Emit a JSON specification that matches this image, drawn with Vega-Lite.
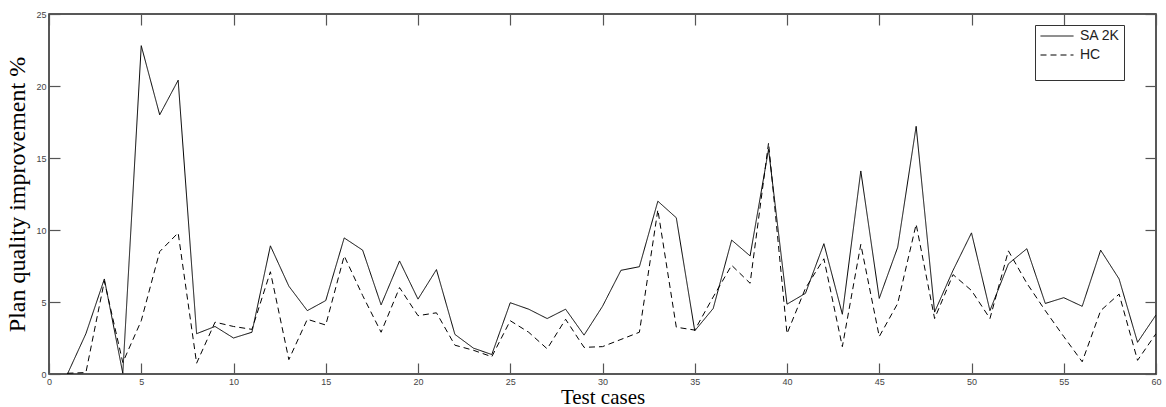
{
  "$schema": "https://vega.github.io/schema/vega-lite/v6.json",
  "width": 1107,
  "height": 360,
  "autosize": {"type": "none"},
  "padding": {"left": 49, "top": 14, "right": 10, "bottom": 33},
  "background": "white",
  "config": {
    "view": {"stroke": "#222", "strokeWidth": 1.5},
    "axis": {
      "grid": false,
      "domain": false,
      "labelFont": "Liberation Sans",
      "labelFontSize": 9,
      "labelColor": "#444",
      "titleFont": "Liberation Serif",
      "titleFontWeight": "normal",
      "titleColor": "#000"
    }
  },
  "datasets": {
    "d": [
      {"case": 1, "method": "SA 2K", "value": 0.0},
      {"case": 2, "method": "SA 2K", "value": 2.8},
      {"case": 3, "method": "SA 2K", "value": 6.6},
      {"case": 4, "method": "SA 2K", "value": 0.05},
      {"case": 5, "method": "SA 2K", "value": 22.8},
      {"case": 6, "method": "SA 2K", "value": 18.0},
      {"case": 7, "method": "SA 2K", "value": 20.4},
      {"case": 8, "method": "SA 2K", "value": 2.8},
      {"case": 9, "method": "SA 2K", "value": 3.3},
      {"case": 10, "method": "SA 2K", "value": 2.5},
      {"case": 11, "method": "SA 2K", "value": 2.9},
      {"case": 12, "method": "SA 2K", "value": 8.9},
      {"case": 13, "method": "SA 2K", "value": 6.1},
      {"case": 14, "method": "SA 2K", "value": 4.4},
      {"case": 15, "method": "SA 2K", "value": 5.1},
      {"case": 16, "method": "SA 2K", "value": 9.45},
      {"case": 17, "method": "SA 2K", "value": 8.6},
      {"case": 18, "method": "SA 2K", "value": 4.8},
      {"case": 19, "method": "SA 2K", "value": 7.85},
      {"case": 20, "method": "SA 2K", "value": 5.2},
      {"case": 21, "method": "SA 2K", "value": 7.25},
      {"case": 22, "method": "SA 2K", "value": 2.75},
      {"case": 23, "method": "SA 2K", "value": 1.8},
      {"case": 24, "method": "SA 2K", "value": 1.35},
      {"case": 25, "method": "SA 2K", "value": 4.95},
      {"case": 26, "method": "SA 2K", "value": 4.5},
      {"case": 27, "method": "SA 2K", "value": 3.85},
      {"case": 28, "method": "SA 2K", "value": 4.5},
      {"case": 29, "method": "SA 2K", "value": 2.7},
      {"case": 30, "method": "SA 2K", "value": 4.7},
      {"case": 31, "method": "SA 2K", "value": 7.2},
      {"case": 32, "method": "SA 2K", "value": 7.45},
      {"case": 33, "method": "SA 2K", "value": 12.0},
      {"case": 34, "method": "SA 2K", "value": 10.85},
      {"case": 35, "method": "SA 2K", "value": 3.0},
      {"case": 36, "method": "SA 2K", "value": 4.55},
      {"case": 37, "method": "SA 2K", "value": 9.3},
      {"case": 38, "method": "SA 2K", "value": 8.2},
      {"case": 39, "method": "SA 2K", "value": 15.6},
      {"case": 40, "method": "SA 2K", "value": 4.85},
      {"case": 41, "method": "SA 2K", "value": 5.6},
      {"case": 42, "method": "SA 2K", "value": 9.05},
      {"case": 43, "method": "SA 2K", "value": 4.15},
      {"case": 44, "method": "SA 2K", "value": 14.1},
      {"case": 45, "method": "SA 2K", "value": 5.25},
      {"case": 46, "method": "SA 2K", "value": 8.8},
      {"case": 47, "method": "SA 2K", "value": 17.2},
      {"case": 48, "method": "SA 2K", "value": 4.3},
      {"case": 49, "method": "SA 2K", "value": 7.2},
      {"case": 50, "method": "SA 2K", "value": 9.8},
      {"case": 51, "method": "SA 2K", "value": 4.4},
      {"case": 52, "method": "SA 2K", "value": 7.65},
      {"case": 53, "method": "SA 2K", "value": 8.7},
      {"case": 54, "method": "SA 2K", "value": 4.9},
      {"case": 55, "method": "SA 2K", "value": 5.3},
      {"case": 56, "method": "SA 2K", "value": 4.7},
      {"case": 57, "method": "SA 2K", "value": 8.6},
      {"case": 58, "method": "SA 2K", "value": 6.6},
      {"case": 59, "method": "SA 2K", "value": 2.2},
      {"case": 60, "method": "SA 2K", "value": 4.1},
      {"case": 1, "method": "HC", "value": 0.05},
      {"case": 2, "method": "HC", "value": 0.1},
      {"case": 3, "method": "HC", "value": 6.45},
      {"case": 4, "method": "HC", "value": 0.8},
      {"case": 5, "method": "HC", "value": 3.7},
      {"case": 6, "method": "HC", "value": 8.5},
      {"case": 7, "method": "HC", "value": 9.8},
      {"case": 8, "method": "HC", "value": 0.75},
      {"case": 9, "method": "HC", "value": 3.6},
      {"case": 10, "method": "HC", "value": 3.3},
      {"case": 11, "method": "HC", "value": 3.1},
      {"case": 12, "method": "HC", "value": 7.1},
      {"case": 13, "method": "HC", "value": 1.0},
      {"case": 14, "method": "HC", "value": 3.8},
      {"case": 15, "method": "HC", "value": 3.4},
      {"case": 16, "method": "HC", "value": 8.2},
      {"case": 17, "method": "HC", "value": 5.45},
      {"case": 18, "method": "HC", "value": 2.9},
      {"case": 19, "method": "HC", "value": 6.0},
      {"case": 20, "method": "HC", "value": 4.05},
      {"case": 21, "method": "HC", "value": 4.25},
      {"case": 22, "method": "HC", "value": 2.0},
      {"case": 23, "method": "HC", "value": 1.65},
      {"case": 24, "method": "HC", "value": 1.2},
      {"case": 25, "method": "HC", "value": 3.7},
      {"case": 26, "method": "HC", "value": 2.9},
      {"case": 27, "method": "HC", "value": 1.75},
      {"case": 28, "method": "HC", "value": 3.8},
      {"case": 29, "method": "HC", "value": 1.85},
      {"case": 30, "method": "HC", "value": 1.9},
      {"case": 31, "method": "HC", "value": 2.4},
      {"case": 32, "method": "HC", "value": 2.9},
      {"case": 33, "method": "HC", "value": 11.4},
      {"case": 34, "method": "HC", "value": 3.25},
      {"case": 35, "method": "HC", "value": 3.05},
      {"case": 36, "method": "HC", "value": 5.35},
      {"case": 37, "method": "HC", "value": 7.55},
      {"case": 38, "method": "HC", "value": 6.3},
      {"case": 39, "method": "HC", "value": 16.05},
      {"case": 40, "method": "HC", "value": 2.8},
      {"case": 41, "method": "HC", "value": 5.95},
      {"case": 42, "method": "HC", "value": 8.0},
      {"case": 43, "method": "HC", "value": 1.9},
      {"case": 44, "method": "HC", "value": 9.0},
      {"case": 45, "method": "HC", "value": 2.6},
      {"case": 46, "method": "HC", "value": 4.9},
      {"case": 47, "method": "HC", "value": 10.4},
      {"case": 48, "method": "HC", "value": 3.85},
      {"case": 49, "method": "HC", "value": 6.9},
      {"case": 50, "method": "HC", "value": 5.8},
      {"case": 51, "method": "HC", "value": 3.85},
      {"case": 52, "method": "HC", "value": 8.55},
      {"case": 53, "method": "HC", "value": 6.3},
      {"case": 54, "method": "HC", "value": 4.4},
      {"case": 55, "method": "HC", "value": 2.6},
      {"case": 56, "method": "HC", "value": 0.85},
      {"case": 57, "method": "HC", "value": 4.4},
      {"case": 58, "method": "HC", "value": 5.55},
      {"case": 59, "method": "HC", "value": 0.95},
      {"case": 60, "method": "HC", "value": 2.8}
    ]
  },
  "data": {"name": "d"},
  "resolve": {"axis": {"x": "independent", "y": "independent"}},
  "layer": [
    {
      "mark": {"type": "line", "color": "#000", "strokeWidth": 1, "clip": true},
      "encoding": {
        "x": {
          "field": "case", "type": "quantitative",
          "scale": {"domain": [0, 60], "nice": false},
          "axis": {"values": [0,5,10,15,20,25,30,35,40,45,50,55,60], "title": "Test cases", "titleFontSize": 21, "tickSize": -11, "tickColor": "#555", "tickWidth": 1.2, "labelPadding": 14, "titlePadding": 0, "labelFlush": false, "labelOverlap": false}
        },
        "y": {
          "field": "value", "type": "quantitative",
          "scale": {"domain": [0, 25], "nice": false},
          "axis": {"values": [0,5,10,15,20,25], "title": "Plan quality improvement %", "titleFontSize": 24, "tickSize": -11, "tickColor": "#555", "tickWidth": 1.2, "labelPadding": 14, "titlePadding": 6}
        },
        "strokeDash": {
          "field": "method", "type": "nominal",
          "scale": {"domain": ["SA 2K", "HC"], "range": [[1, 0], [6, 4]]},
          "legend": {
            "orient": "none", "legendX": 986, "legendY": 11,
            "title": "\u00a0", "titleOrient": "bottom", "titleFontSize": 9, "titlePadding": 5,
            "strokeColor": "#333", "fillColor": "white", "padding": 4,
            "symbolType": "M-3,0H3", "symbolSize": 121, "symbolOffset": 11, "symbolStrokeWidth": 1, "symbolStrokeColor": "#000", "symbolFillColor": "transparent",
            "labelFont": "Liberation Sans", "labelFontSize": 14, "labelColor": "#222", "labelOffset": 16,
            "rowPadding": 5,
            "labelExpr": "datum.label == 'HC' ? '\u00a0HC\u00a0\u00a0\u00a0\u00a0\u00a0\u00a0\u00a0\u00a0\u00a0\u00a0\u00a0' : datum.label + '\u00a0\u00a0\u00a0\u00a0\u00a0'"
          }
        }
      }
    },
    {
      "mark": {"type": "line", "opacity": 0},
      "encoding": {
        "x": {"field": "case", "type": "quantitative", "axis": {"orient": "top", "values": [0,5,10,15,20,25,30,35,40,45,50,55,60], "tickSize": -11, "tickColor": "#555", "tickWidth": 1.2, "labels": false, "title": null}},
        "y": {"field": "value", "type": "quantitative", "axis": {"orient": "right", "values": [0,5,10,15,20,25], "tickSize": -11, "tickColor": "#555", "tickWidth": 1.2, "labels": false, "title": null}}
      }
    }
  ]
}
